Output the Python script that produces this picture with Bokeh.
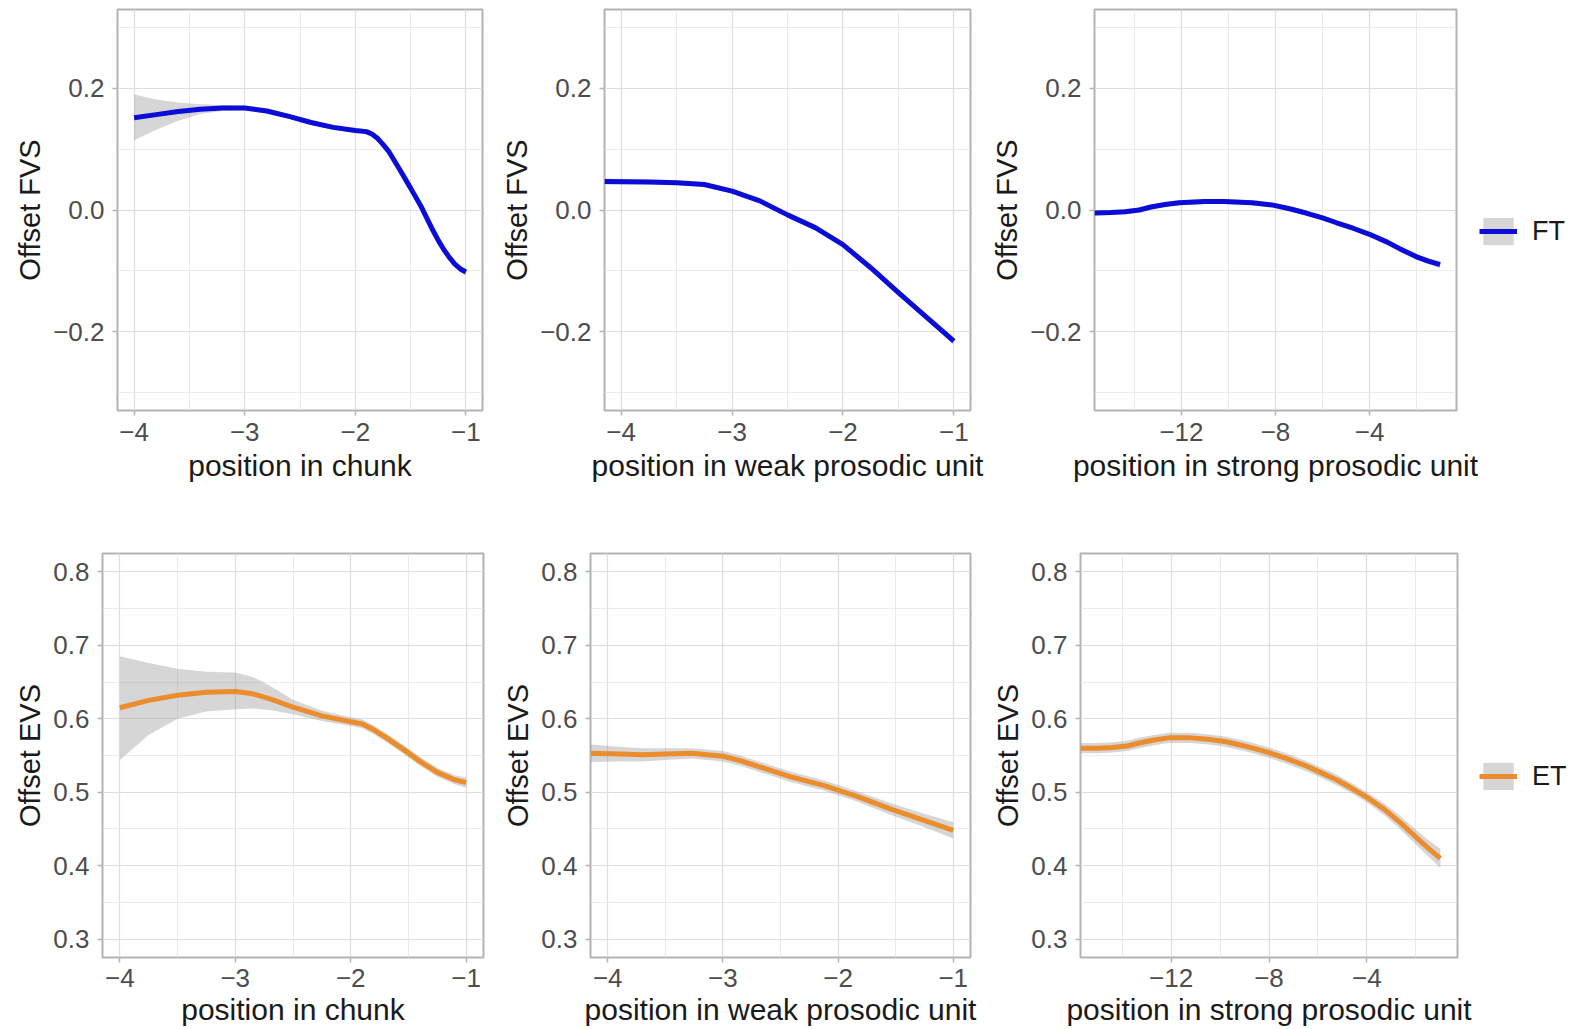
from bokeh.plotting import figure
from bokeh.layouts import column, row
from bokeh.models import FixedTicker, Range1d, Legend, LegendItem, CustomJSTickFormatter
from bokeh.embed import file_html
from bokeh.resources import INLINE

# ---------------- data ----------------
# Offset FVS, position in chunk (FT)
ft_chunk_x = [-4.0, -3.8, -3.6, -3.4, -3.2, -3.0, -2.8, -2.6, -2.4, -2.2, -2.0, -1.9, -1.85, -1.8, -1.75, -1.7, -1.6, -1.5, -1.4, -1.3, -1.25, -1.2, -1.15, -1.1, -1.05, -1.0]
ft_chunk_y = [0.152, 0.157, 0.162, 0.166, 0.168, 0.168, 0.163, 0.154, 0.144, 0.136, 0.131, 0.129, 0.125, 0.118, 0.108, 0.097, 0.067, 0.036, 0.004, -0.033, -0.050, -0.065, -0.078, -0.089, -0.097, -0.102]
ft_chunk_hi = [0.190, 0.182, 0.177, 0.174, 0.173, 0.172, 0.167, 0.158, 0.148, 0.140, 0.135, 0.133, 0.129, 0.122, 0.112, 0.101, 0.071, 0.040, 0.008, -0.029, -0.046, -0.061, -0.074, -0.085, -0.092, -0.096]
ft_chunk_lo = [0.115, 0.132, 0.147, 0.158, 0.163, 0.164, 0.159, 0.150, 0.140, 0.132, 0.127, 0.125, 0.121, 0.114, 0.104, 0.093, 0.063, 0.032, 0.000, -0.037, -0.054, -0.069, -0.082, -0.093, -0.102, -0.108]

# Offset FVS, position in weak prosodic unit (FT)
ft_weak_x = [-4.15, -3.75, -3.5, -3.25, -3.0, -2.75, -2.5, -2.25, -2.0, -1.75, -1.5, -1.25, -1.0]
ft_weak_y = [0.047, 0.046, 0.045, 0.042, 0.031, 0.015, -0.008, -0.029, -0.057, -0.095, -0.136, -0.176, -0.216]
ft_weak_hi = [0.052, 0.050, 0.049, 0.046, 0.035, 0.019, -0.004, -0.025, -0.053, -0.091, -0.131, -0.171, -0.210]
ft_weak_lo = [0.042, 0.042, 0.041, 0.038, 0.027, 0.011, -0.012, -0.033, -0.061, -0.099, -0.141, -0.181, -0.222]

# Offset FVS, position in strong prosodic unit (FT)
ft_strong_x = [-15.7, -15.0, -14.4, -13.8, -13.3, -12.7, -12.1, -11.0, -10.2, -9.0, -8.1, -7.4, -6.7, -6.0, -5.4, -4.7, -4.0, -3.3, -2.7, -2.0, -1.5, -1.0]
ft_strong_y = [-0.005, -0.004, -0.003, 0.000, 0.005, 0.009, 0.012, 0.014, 0.014, 0.012, 0.008, 0.002, -0.005, -0.013, -0.021, -0.030, -0.040, -0.052, -0.064, -0.077, -0.084, -0.090]
ft_strong_hi = [-0.001, 0.000, 0.001, 0.004, 0.009, 0.013, 0.016, 0.018, 0.018, 0.016, 0.012, 0.006, -0.001, -0.009, -0.017, -0.026, -0.036, -0.048, -0.059, -0.072, -0.079, -0.084]
ft_strong_lo = [-0.009, -0.008, -0.007, -0.004, 0.001, 0.005, 0.008, 0.010, 0.010, 0.008, 0.004, -0.002, -0.009, -0.017, -0.025, -0.034, -0.044, -0.056, -0.069, -0.082, -0.089, -0.096]

# Offset EVS, position in chunk (ET)
et_chunk_x = [-4.0, -3.75, -3.5, -3.25, -3.0, -2.85, -2.7, -2.5, -2.25, -2.0, -1.9, -1.8, -1.7, -1.55, -1.4, -1.25, -1.1, -1.0]
et_chunk_y = [0.615, 0.625, 0.632, 0.636, 0.637, 0.634, 0.627, 0.616, 0.604, 0.596, 0.593, 0.585, 0.575, 0.559, 0.542, 0.527, 0.517, 0.513]
et_chunk_hi = [0.685, 0.676, 0.668, 0.664, 0.663, 0.657, 0.645, 0.626, 0.611, 0.602, 0.599, 0.591, 0.581, 0.565, 0.548, 0.533, 0.523, 0.520]
et_chunk_lo = [0.544, 0.578, 0.600, 0.610, 0.613, 0.614, 0.612, 0.606, 0.597, 0.590, 0.587, 0.579, 0.569, 0.553, 0.536, 0.521, 0.511, 0.506]

# Offset EVS, position in weak prosodic unit (ET)
et_weak_x = [-4.15, -3.9, -3.7, -3.5, -3.27, -3.0, -2.85, -2.69, -2.41, -2.12, -1.83, -1.54, -1.26, -1.0]
et_weak_y = [0.553, 0.552, 0.551, 0.552, 0.553, 0.549, 0.543, 0.535, 0.521, 0.509, 0.494, 0.477, 0.462, 0.448]
et_weak_hi = [0.565, 0.562, 0.560, 0.560, 0.560, 0.556, 0.550, 0.542, 0.528, 0.516, 0.501, 0.485, 0.471, 0.459]
et_weak_lo = [0.541, 0.542, 0.542, 0.544, 0.546, 0.542, 0.536, 0.528, 0.514, 0.502, 0.487, 0.469, 0.453, 0.437]

# Offset EVS, position in strong prosodic unit (ET)
et_strong_x = [-15.7, -15.0, -14.4, -13.8, -13.3, -12.7, -12.1, -11.2, -10.5, -9.8, -9.0, -8.1, -7.3, -6.5, -5.9, -5.25, -4.6, -4.0, -3.3, -2.65, -2.0, -1.5, -1.0]
et_strong_y = [0.560, 0.560, 0.561, 0.563, 0.567, 0.571, 0.574, 0.574, 0.572, 0.569, 0.563, 0.555, 0.546, 0.536, 0.527, 0.517, 0.505, 0.493, 0.477, 0.459, 0.439, 0.424, 0.410]
et_strong_hi = [0.567, 0.567, 0.568, 0.570, 0.574, 0.578, 0.581, 0.581, 0.579, 0.576, 0.570, 0.562, 0.553, 0.543, 0.534, 0.524, 0.512, 0.500, 0.485, 0.468, 0.449, 0.435, 0.423]
et_strong_lo = [0.553, 0.553, 0.554, 0.556, 0.560, 0.564, 0.567, 0.567, 0.565, 0.562, 0.556, 0.548, 0.539, 0.529, 0.520, 0.510, 0.498, 0.486, 0.469, 0.450, 0.429, 0.413, 0.397]

# axes
pos_ticks = [-4, -3, -2, -1]
pos_minor = [-3.5, -2.5, -1.5]
strong_ticks = [-12, -8, -4]
strong_minor = [-14, -10, -6, -2]
fvs_ticks = [-0.2, 0.0, 0.2]
fvs_minor = [-0.3, -0.1, 0.1, 0.3]
evs_ticks = [0.3, 0.4, 0.5, 0.6, 0.7, 0.8]
evs_minor = [0.35, 0.45, 0.55, 0.65, 0.75]

x_titles = ["position in chunk", "position in weak prosodic unit", "position in strong prosodic unit"]
group_labels = ["FT", "ET"]
y_titles = ["Offset FVS", "Offset EVS"]

BLUE = "#0C0CD8"
ORANGE = "#EB8C2D"
BAND = "#999999"
FONT = "Liberation Sans"


def fmt(digits):
    return CustomJSTickFormatter(args=dict(d=digits), code="""
        let v = tick;
        if (Math.abs(v) < 1e-9) { v = 0; }
        return v.toFixed(d).replace('-', '\\u2212');
    """)


def make_panel(xs, ys, lo, hi, color, xr, xt, xm, yr, yt, ym, xlabel, ylabel,
               width, height, bl, br, bt, bb, xstand):
    p = figure(width=width, height=height, output_backend="svg", toolbar_location=None,
               x_range=Range1d(*xr), y_range=Range1d(*yr),
               min_border_left=bl, min_border_right=br, min_border_top=bt, min_border_bottom=bb)
    p.background_fill_color = "white"
    p.border_fill_color = "white"
    p.outline_line_color = "#B3B3B3"
    p.outline_line_width = 2

    p.xaxis.ticker = FixedTicker(ticks=xt, minor_ticks=xm)
    p.yaxis.ticker = FixedTicker(ticks=yt, minor_ticks=ym)
    p.xaxis.formatter = fmt(0)
    p.yaxis.formatter = fmt(1)
    for g in (p.xgrid, p.ygrid):
        g.grid_line_color = "#DEDEDE"
        g.grid_line_width = 1.2
        g.minor_grid_line_color = "#E6E6E6"
        g.minor_grid_line_width = 0.8
    for ax in (p.xaxis, p.yaxis):
        ax.axis_line_color = None
        ax.major_tick_line_color = "#B3B3B3"
        ax.major_tick_line_width = 1.5
        ax.major_tick_out = 5
        ax.major_tick_in = 0
        ax.minor_tick_line_color = None
        ax.major_label_text_font = FONT
        ax.major_label_text_font_size = "26px"
        ax.major_label_text_color = "#4D4D4D"
        ax.axis_label_text_font = FONT
        ax.axis_label_text_font_style = "normal"
        ax.axis_label_text_color = "#1A1A1A"
    p.xaxis.axis_label = xlabel
    p.yaxis.axis_label = ylabel
    p.xaxis.axis_label_text_font_size = "30px"
    p.yaxis.axis_label_text_font_size = "29px"
    p.xaxis.major_label_standoff = xstand[0]
    p.xaxis.axis_label_standoff = xstand[1]
    p.yaxis.major_label_standoff = 8
    p.yaxis.axis_label_standoff = 4

    p.varea(x=xs, y1=lo, y2=hi, fill_color=BAND, fill_alpha=0.4)
    p.line(x=xs, y=ys, line_color=color, line_width=5)
    return p


def make_legend(label, color, xs, ys, lo, hi, width, height, loc):
    # a bare canvas carrying only the legend key of one group; its ranges keep
    # the group's own curve out of view, so only the key is seen
    p = figure(width=width, height=height, output_backend="svg", toolbar_location=None,
               x_axis_type=None, y_axis_type=None, x_range=Range1d(100, 101),
               y_range=Range1d(100, 101), min_border=0)
    p.outline_line_color = None
    p.background_fill_color = "white"
    p.border_fill_color = "white"
    p.grid.visible = False
    band = p.varea(x=xs, y1=lo, y2=hi, fill_color=BAND, fill_alpha=0.4)
    line = p.line(x=xs, y=ys, line_color=color, line_width=5)
    leg = Legend(items=[LegendItem(label=label, renderers=[band, line])],
                 location=loc, padding=0, margin=0, spacing=0,
                 border_line_color=None, background_fill_alpha=0,
                 glyph_width=38, glyph_height=34, label_standoff=15,
                 label_text_font=FONT, label_text_font_size="27px",
                 label_text_color="#1A1A1A", label_height=34)
    p.add_layout(leg, "center")
    return p


TOP_H, BOT_H = 520, 509
f1 = make_panel(ft_chunk_x, ft_chunk_y, ft_chunk_lo, ft_chunk_hi, BLUE,
                (-4.15, -0.85), pos_ticks, pos_minor, (-0.33, 0.33), fvs_ticks, fvs_minor,
                x_titles[0], y_titles[0], 490, TOP_H, 117, 8, 9, 110, (7, 5))
f2 = make_panel(ft_weak_x, ft_weak_y, ft_weak_lo, ft_weak_hi, BLUE,
                (-4.15, -0.85), pos_ticks, pos_minor, (-0.33, 0.33), fvs_ticks, fvs_minor,
                x_titles[1], y_titles[0], 498, TOP_H, 114, 18, 9, 110, (7, 5))
f3 = make_panel(ft_strong_x, ft_strong_y, ft_strong_lo, ft_strong_hi, BLUE,
                (-15.7, -0.3), strong_ticks, strong_minor, (-0.33, 0.33), fvs_ticks, fvs_minor,
                x_titles[2], y_titles[0], 490, TOP_H, 102, 22, 9, 110, (7, 5))
g1 = make_legend(group_labels[0], BLUE, ft_strong_x, ft_strong_y, ft_strong_lo, ft_strong_hi,
                 94, TOP_H, (1, 162))

f4 = make_panel(et_chunk_x, et_chunk_y, et_chunk_lo, et_chunk_hi, ORANGE,
                (-4.15, -0.85), pos_ticks, pos_minor, (0.275, 0.825), evs_ticks, evs_minor,
                x_titles[0], y_titles[1], 490, BOT_H, 102, 7, 33, 72, (6, 3))
f5 = make_panel(et_weak_x, et_weak_y, et_weak_lo, et_weak_hi, ORANGE,
                (-4.15, -0.85), pos_ticks, pos_minor, (0.275, 0.825), evs_ticks, evs_minor,
                x_titles[1], y_titles[1], 498, BOT_H, 100, 18, 33, 72, (6, 3))
f6 = make_panel(et_strong_x, et_strong_y, et_strong_lo, et_strong_hi, ORANGE,
                (-15.7, -0.3), strong_ticks, strong_minor, (0.275, 0.825), evs_ticks, evs_minor,
                x_titles[2], y_titles[1], 490, BOT_H, 92, 21, 33, 72, (6, 3))
g2 = make_legend(group_labels[1], ORANGE, et_strong_x, et_strong_y, et_strong_lo, et_strong_hi,
                 94, BOT_H, (1, 164))

layout = column(row(f1, f2, f3, g1), row(f4, f5, f6, g2))

with open("out.html", "w", encoding="utf-8") as fh:
    fh.write(file_html(layout, INLINE))
